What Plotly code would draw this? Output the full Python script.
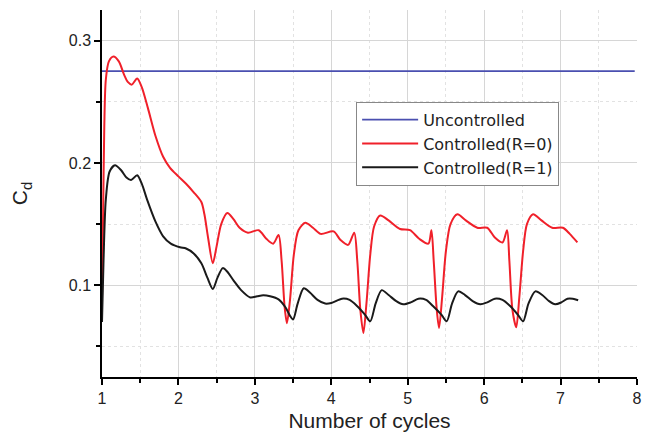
import plotly.graph_objects as go

# Uncontrolled
unc_x = [1.0, 7.97]
unc_y = [0.275, 0.275]

# Controlled (R=0)
r0_x = [1.0, 1.015, 1.03, 1.05, 1.09, 1.15, 1.22, 1.29, 1.34, 1.39, 1.46, 1.52, 1.6, 1.7, 1.8, 1.89, 2.0, 2.1, 2.2,
        2.3, 2.34, 2.39, 2.45, 2.5, 2.56, 2.64, 2.72, 2.8, 2.91, 3.05, 3.15, 3.24, 3.31, 3.35, 3.39, 3.42, 3.46, 3.51,
        3.57, 3.66, 3.76, 3.86, 4.03, 4.12, 4.22, 4.30, 4.34, 4.38, 4.42, 4.46, 4.51, 4.56, 4.64, 4.75, 4.9, 5.03,
        5.15, 5.27, 5.31, 5.34, 5.38, 5.41, 5.45, 5.5, 5.56, 5.65, 5.76, 5.91, 6.04, 6.14, 6.24, 6.30, 6.33, 6.37,
        6.42, 6.46, 6.51, 6.56, 6.64, 6.75, 6.89, 7.03, 7.12, 7.22]
r0_y = [0.09, 0.16, 0.23, 0.268, 0.283, 0.287, 0.283, 0.272, 0.266, 0.264, 0.269, 0.262, 0.245, 0.222, 0.205, 0.196,
        0.189, 0.183, 0.176, 0.168, 0.158, 0.138, 0.118, 0.132, 0.150, 0.159, 0.154, 0.147, 0.143, 0.145, 0.138,
        0.134, 0.141, 0.12, 0.082, 0.069, 0.088, 0.125, 0.145, 0.151, 0.147, 0.142, 0.144, 0.137, 0.133, 0.143, 0.12,
        0.08, 0.061, 0.085, 0.125, 0.148, 0.157, 0.153, 0.146, 0.145, 0.138, 0.134, 0.145, 0.12, 0.08, 0.065, 0.09,
        0.128, 0.150, 0.158, 0.153, 0.147, 0.147, 0.139, 0.135, 0.145, 0.12, 0.08, 0.0656, 0.09, 0.128, 0.150,
        0.158, 0.153, 0.147, 0.147, 0.142, 0.135]

# Controlled (R=1)
r1_x = [1.0, 1.02, 1.05, 1.1, 1.17, 1.25, 1.32, 1.38, 1.46, 1.52, 1.59, 1.7, 1.8, 1.9, 2.02, 2.1, 2.2, 2.3, 2.38,
        2.45, 2.51, 2.58, 2.64, 2.72, 2.82, 2.94, 3.03, 3.11, 3.2, 3.31, 3.40, 3.46, 3.50, 3.56, 3.64, 3.72, 3.82,
        3.92, 4.0, 4.14, 4.24, 4.34, 4.44, 4.51, 4.58, 4.66, 4.75, 4.85, 4.94, 5.04, 5.14, 5.24, 5.33, 5.44, 5.51,
        5.58, 5.66, 5.75, 5.85, 5.95, 6.04, 6.14, 6.24, 6.34, 6.44, 6.51, 6.58, 6.67, 6.76, 6.85, 6.93, 7.01, 7.09,
        7.16, 7.23]
r1_y = [0.07, 0.12, 0.17, 0.193, 0.198, 0.194, 0.188, 0.186, 0.19, 0.183, 0.170, 0.152, 0.14, 0.134, 0.131, 0.130,
        0.126, 0.118, 0.106, 0.097, 0.106, 0.114, 0.111, 0.104, 0.096, 0.090, 0.091, 0.0918, 0.091, 0.0885, 0.082,
        0.075, 0.072, 0.085, 0.0975, 0.094, 0.088, 0.085, 0.0855, 0.089, 0.088, 0.0828, 0.076, 0.0705, 0.085, 0.096,
        0.092, 0.087, 0.0844, 0.086, 0.089, 0.088, 0.083, 0.076, 0.0705, 0.085, 0.095, 0.092, 0.087, 0.0844, 0.086,
        0.089, 0.088, 0.083, 0.076, 0.0705, 0.085, 0.095, 0.092, 0.087, 0.0844, 0.086, 0.089, 0.089, 0.0877]

x_ticks = [1, 2, 3, 4, 5, 6, 7, 8]
y_ticks = [0.1, 0.2, 0.3]
y_tick_labels = ["0.1", "0.2", "0.3"]

fig = go.Figure()
fig.add_trace(go.Scatter(x=unc_x, y=unc_y, mode="lines", name="Uncontrolled",
                         line=dict(color="#4a4fb0", width=1.8)))
fig.add_trace(go.Scatter(x=r0_x, y=r0_y, mode="lines", name="Controlled(R=0)",
                         line=dict(color="#f0202a", width=2, shape="spline", smoothing=0.8)))
fig.add_trace(go.Scatter(x=r1_x, y=r1_y, mode="lines", name="Controlled(R=1)",
                         line=dict(color="#1a1a1a", width=2, shape="spline", smoothing=0.8)))

font = "Liberation Sans, Arial, sans-serif"
fig.update_layout(
    width=654, height=432,
    margin=dict(l=102, r=17, t=10, b=55, autoexpand=False),
    paper_bgcolor="white", plot_bgcolor="white",
    font=dict(family=font, color="#222222", size=16),
    showlegend=True,
    legend=dict(x=0.475, y=0.75, xanchor="left", yanchor="top",
                bgcolor="white", bordercolor="#888888", borderwidth=1,
                font=dict(size=16, color="#222222", family="DejaVu Sans, Liberation Sans, sans-serif"),
                tracegroupgap=0, itemwidth=56),
    xaxis=dict(range=[1, 8], tickvals=x_ticks, ticks="outside", ticklen=6, tickwidth=1.5,
               tickcolor="black", showline=True, linecolor="black", linewidth=1.5,
               showgrid=True, gridcolor="#d6d6d6", gridwidth=1, zeroline=False, automargin=False,
               title=dict(text="Number of cycles", font=dict(size=21), standoff=10),
               tickfont=dict(size=16),
               minor=dict(dtick=0.5, ticks="outside", ticklen=4, tickcolor="black",
                          showgrid=True, gridcolor="#e2e2e2", griddash="dot")),
    yaxis=dict(range=[0.025, 0.325], tickvals=y_ticks, ticktext=y_tick_labels, ticks="outside",
               ticklen=6, tickwidth=1.5, tickcolor="black", showline=True, linecolor="black",
               linewidth=1.5, showgrid=True, gridcolor="#d6d6d6", gridwidth=1, zeroline=False,
               automargin=False,
               title=dict(text="C<sub>d</sub>", font=dict(size=21), standoff=35),
               tickfont=dict(size=16),
               minor=dict(tickvals=[0.05, 0.15, 0.25], ticks="outside", ticklen=4, tickcolor="black",
                          showgrid=True, gridcolor="#e2e2e2", griddash="dot")),
)

fig.write_html("out.html")
